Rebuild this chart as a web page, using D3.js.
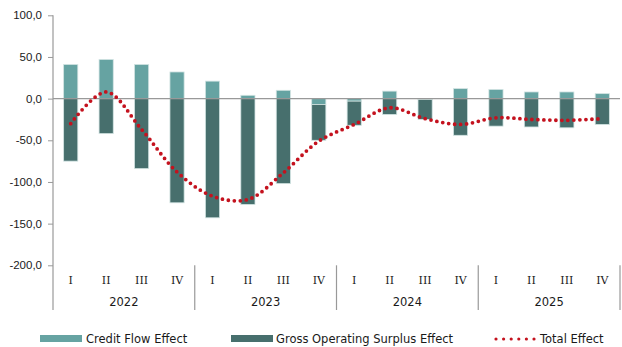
<!DOCTYPE html>
<html>
<head>
<meta charset="utf-8">
<script src="https://cdn.jsdelivr.net/npm/d3@7"></script>
<style>
  body { margin: 0; background: #fff; }
  svg { font-family: "DejaVu Sans", Verdana, sans-serif; }
</style>
</head>
<body>
<svg></svg>
<script>
var years = ["2022", "2023", "2024", "2025"];
var quarters = ["I", "II", "III", "IV"];
var creditFlow = [41, 47, 41, 32, 21, 4, 10, -7, -3, 9, -1, 12, 11, 8, 8, 6];
var grossSurplus = [-75, -42, -84, -125, -143, -127, -102, -43, -29, -19, -24, -44, -33, -34, -35, -31];
var totalEffect = [-30, 8, -37, -88, -117, -121, -89, -51, -31, -11, -24, -31, -23, -25, -26, -24];
var yTicks = [100, 50, 0, -50, -100, -150, -200];

document.addEventListener("DOMContentLoaded", function() {
  var width = 622;
  var height = 347;
  var left = 53, right = 620, top = 15.3, bottom = 265.3;

  var lightColor = "#66a3a2";
  var darkColor = "#476f6d";
  var redColor = "#c4121e";
  var textColor = "#1a1a1a";

  var cats = [];
  years.forEach(function(y) {
    quarters.forEach(function(q) { cats.push(y + "-" + q); });
  });

  var rows = cats.map(function(c, i) {
    return { cat: c, credit: creditFlow[i], gos: grossSurplus[i], total: totalEffect[i] };
  });

  var xScale = d3.scaleBand()
    .domain(cats)
    .range([left, right])
    .paddingInner(0.6)
    .paddingOuter(0.3);

  var yScale = d3.scaleLinear()
    .domain([-200, 100])
    .range([bottom, top]);

  var svg = d3.select("svg")
    .attr("width", width)
    .attr("height", height);

  // stacked bars, negatives going down from zero
  var series = d3.stack()
    .keys(["credit", "gos"])
    .offset(d3.stackOffsetDiverging)(rows);

  var colors = { credit: lightColor, gos: darkColor };

  svg.append("g")
    .selectAll("g")
    .data(series)
    .enter()
    .append("g")
      .attr("fill", d => colors[d.key])
    .selectAll("rect")
    .data(d => d)
    .enter()
    .append("rect")
      .attr("x", d => xScale(d.data.cat))
      .attr("width", xScale.bandwidth())
      .attr("y", d => yScale(Math.max(d[0], d[1])))
      .attr("height", d => Math.abs(yScale(d[0]) - yScale(d[1])))
      .attr("stroke", "#d3e4e3")
      .attr("stroke-width", 0.8);

  // y axis
  var yAxis = d3.axisLeft(yScale)
    .tickValues(yTicks)
    .tickSize(5)
    .tickPadding(6)
    .tickFormat(d => d3.format(".1f")(d).replace(".", ",").replace("−", "-"));

  var gy = svg.append("g")
    .attr("transform", "translate(" + left + ",0)")
    .call(yAxis);
  gy.select(".domain").remove();
  gy.selectAll(".tick line").attr("stroke", "#999");
  gy.selectAll("text")
    .attr("fill", textColor)
    .style("font-size", "11.5px");

  svg.append("line")
    .attr("x1", left).attr("x2", left)
    .attr("y1", top).attr("y2", 310)
    .attr("stroke", "#999").attr("stroke-width", 1.2);

  // zero line
  svg.append("line")
    .attr("x1", left).attr("x2", right)
    .attr("y1", yScale(0)).attr("y2", yScale(0))
    .attr("stroke", "#999").attr("stroke-width", 1.2);

  // quarter labels
  var xAxis = d3.axisBottom(xScale)
    .tickSize(0)
    .tickPadding(11)
    .tickFormat(d => d.split("-")[1]);

  var gx = svg.append("g")
    .attr("transform", "translate(0," + bottom + ")")
    .call(xAxis);
  gx.select(".domain").remove();
  gx.selectAll("text")
    .attr("fill", textColor)
    .style("font-family", "\"DejaVu Serif\", serif")
    .style("font-size", "11px");

  // year separators and labels
  var step = xScale.step();
  var bounds = years.map((y, i) => xScale(cats[i * 4]) - xScale.paddingInner() * step / 2);
  bounds.push(right);

  svg.selectAll(".sep")
    .data(bounds.slice(1))
    .enter()
    .append("line")
      .attr("x1", d => d).attr("x2", d => d)
      .attr("y1", bottom).attr("y2", 310)
      .attr("stroke", "#999").attr("stroke-width", 1.2);

  svg.selectAll(".year")
    .data(years)
    .enter()
    .append("text")
      .text(d => d)
      .attr("x", (d, i) => (bounds[i] + bounds[i + 1]) / 2)
      .attr("y", 306)
      .attr("text-anchor", "middle")
      .attr("fill", textColor)
      .style("font-size", "11.5px");

  // total effect line
  var line = d3.line()
    .x(d => xScale(d.cat) + xScale.bandwidth() / 2)
    .y(d => yScale(d.total))
    .curve(d3.curveCatmullRom.alpha(0.5));

  svg.append("path")
    .datum(rows)
    .attr("d", line)
    .attr("fill", "none")
    .attr("stroke", redColor)
    .attr("stroke-width", 3.8)
    .attr("stroke-linecap", "round")
    .attr("stroke-dasharray", "0,6");

  // legend
  var ly = 339;
  var legend = svg.append("g").style("font-size", "11.5px");

  legend.append("rect")
    .attr("x", 40).attr("y", ly - 4).attr("width", 42).attr("height", 7)
    .attr("fill", lightColor);
  legend.append("text")
    .text("Credit Flow Effect")
    .attr("x", 86).attr("y", ly + 4).attr("fill", textColor);

  legend.append("rect")
    .attr("x", 231).attr("y", ly - 4).attr("width", 42).attr("height", 7)
    .attr("fill", darkColor);
  legend.append("text")
    .text("Gross Operating Surplus Effect")
    .attr("x", 276).attr("y", ly + 4).attr("fill", textColor);

  legend.append("line")
    .attr("x1", 496).attr("x2", 536)
    .attr("y1", ly).attr("y2", ly)
    .attr("stroke", redColor)
    .attr("stroke-width", 3.2)
    .attr("stroke-linecap", "round")
    .attr("stroke-dasharray", "0,7.6");
  legend.append("text")
    .text("Total Effect")
    .attr("x", 540).attr("y", ly + 4).attr("fill", textColor);
});
</script>
</body>
</html>
